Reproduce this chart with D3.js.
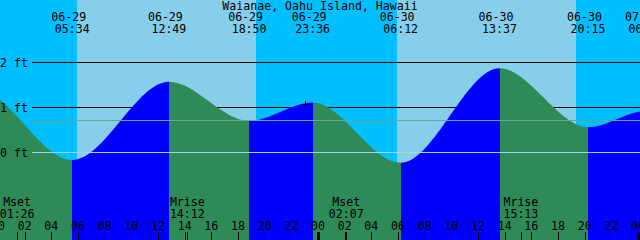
<!DOCTYPE html>
<html>
<head>
<meta charset="utf-8">
<script src="https://cdn.jsdelivr.net/npm/d3@7"></script>
<style>
  body { margin: 0; background: #fff; }
  svg { display: block; }
  text { font-family: 'DejaVu Sans Mono', monospace; font-size: 11.6px; fill: #000; }
</style>
</head>
<body>
<div id="tideGraph"></div>
<script>
const title = 'Waianae, Oahu Island, Hawaii'

// tide extremes (the first two and the last one are outside the window)
const tideTimes = ['2024-06-28T16:40', '2024-06-28T22:30', '2024-06-29T05:34', '2024-06-29T12:49',
  '2024-06-29T18:50', '2024-06-29T23:36', '2024-06-30T06:12', '2024-06-30T13:37',
  '2024-06-30T20:15', '2024-07-01T00:36', '2024-07-01T07:00']
const tideHeights = [0.8, 1.38, -0.17, 1.57, 0.70, 1.11, -0.23, 1.87, 0.56, 0.92, -0.1]

const sunriseTimes = ['2024-06-29T05:55', '2024-06-30T05:55']
const sunsetTimes = ['2024-06-29T19:21', '2024-06-30T19:21']

const moonTimes = ['2024-06-29T01:26', '2024-06-29T14:12', '2024-06-30T02:07', '2024-06-30T15:13']
const moonEvents = ['Mset', 'Mrise', 'Mset', 'Mrise']

const depthLines = [0, 1, 2]
const meanLevel = 0.71
const markTime = '2024-06-29T23:02'
const markHeight = 1.06

const width = 640
const height = 240

const parse = d3.utcParse('%Y-%m-%dT%H:%M')
const tStart = parse('2024-06-29T00:09')
const tEnd = parse('2024-07-01T00:09')

const x = d3.scaleUtc().domain([tStart, tEnd]).range([0, width])
const y = d3.scaleLinear().domain([0, 2]).range([152.5, 62.5])

const tides = tideTimes.map((t, i) => ({t: parse(t), h: tideHeights[i]}))

const svg = d3
  .select('#tideGraph')
  .append('svg')
  .attr('width', width)
  .attr('height', height)

// sky: night / day bands
const sunrise = sunriseTimes.map(parse)
const sunset = sunsetTimes.map(parse)
const bands = [{a: tStart, b: sunrise[0], day: false}]
sunrise.forEach((s, i) => {
  bands.push({a: s, b: sunset[i], day: true})
  bands.push({a: sunset[i], b: i + 1 < sunrise.length ? sunrise[i + 1] : tEnd, day: false})
})
svg.selectAll('rect.sky')
  .data(bands)
  .enter()
  .append('rect')
  .attr('class', 'sky')
  .attr('x', d => x(d.a))
  .attr('width', d => x(d.b) - x(d.a))
  .attr('y', 0)
  .attr('height', height)
  .attr('fill', d => d.day ? '#87ceeb' : '#00bfff')
  .attr('shape-rendering', 'crispEdges')

// 1 ft and 2 ft lines sit behind the water
svg.selectAll('line.depth')
  .data(depthLines.filter(d => d > 0))
  .enter()
  .append('line')
  .attr('x1', 32)
  .attr('x2', width)
  .attr('y1', d => y(d))
  .attr('y2', d => y(d))
  .attr('stroke', '#000')
  .attr('shape-rendering', 'crispEdges')

// water, coloured by rising / falling
const area = d3.area()
  .x(d => x(d.t))
  .y0(height)
  .y1(d => y(d.h))
  .curve(d3.curveMonotoneX)

svg.append('clipPath')
  .attr('id', 'water')
  .append('path')
  .attr('d', area(tides))

const segs = d3.pairs(tides)
svg.append('g')
  .attr('clip-path', 'url(#water)')
  .selectAll('rect')
  .data(segs)
  .enter()
  .append('rect')
  .attr('x', d => x(d[0].t))
  .attr('width', d => x(d[1].t) - x(d[0].t))
  .attr('y', 0)
  .attr('height', height)
  .attr('fill', d => d[1].h > d[0].h ? '#0000ff' : '#2e8b57')
  .attr('shape-rendering', 'crispEdges')

// 0 ft and mean level lines drawn over the water
svg.append('line')
  .attr('x1', 32).attr('x2', width)
  .attr('y1', y(0)).attr('y2', y(0))
  .attr('stroke', '#a6d2e2')
  .attr('shape-rendering', 'crispEdges')
svg.append('line')
  .attr('x1', 32).attr('x2', width)
  .attr('y1', y(meanLevel)).attr('y2', y(meanLevel))
  .attr('stroke', '#5fa89a')
  .attr('shape-rendering', 'crispEdges')

svg.selectAll('text.ft')
  .data(depthLines)
  .enter()
  .append('text')
  .attr('x', 0)
  .attr('y', d => y(d) + 4)
  .text(d => d + ' ft')

// the little cross
const mx = x(parse(markTime))
const my = y(markHeight)
svg.append('path')
  .attr('d', `M${mx - 4},${my}H${mx + 5}M${mx + 0.5},${my - 3.5}V${my + 3.5}`)
  .attr('stroke', '#000')
  .attr('shape-rendering', 'crispEdges')

// title
svg.append('text')
  .attr('x', width / 2)
  .attr('y', 9.5)
  .attr('text-anchor', 'middle')
  .text(title)

// tide event labels at the top
const fmtDate = d3.utcFormat('%m-%d')
const fmtTime = d3.utcFormat('%H:%M')
const shown = tides.filter(d => d.t > tStart && d.t < d3.utcHour.offset(tEnd, 2))
const lab = svg.selectAll('g.ev')
  .data(shown)
  .enter()
  .append('g')
lab.append('text')
  .attr('x', d => x(d.t) - 3.5)
  .attr('y', 20.5)
  .attr('text-anchor', 'middle')
  .text(d => fmtDate(d.t))
lab.append('text')
  .attr('x', d => x(d.t))
  .attr('y', 33)
  .attr('text-anchor', 'middle')
  .text(d => fmtTime(d.t))

// moon events
const moon = moonTimes.map((t, i) => ({t: parse(t), name: moonEvents[i]}))
const ml = svg.selectAll('g.moon')
  .data(moon)
  .enter()
  .append('g')
ml.append('text')
  .attr('x', d => x(d.t))
  .attr('y', 206)
  .attr('text-anchor', 'middle')
  .text(d => d.name)
ml.append('text')
  .attr('x', d => x(d.t))
  .attr('y', 217.5)
  .attr('text-anchor', 'middle')
  .text(d => fmtTime(d.t))
ml.append('line')
  .attr('x1', d => Math.round(x(d.t)) + 0.5)
  .attr('x2', d => Math.round(x(d.t)) + 0.5)
  .attr('y1', 232)
  .attr('y2', height)
  .attr('stroke', '#000')
  .attr('shape-rendering', 'crispEdges')

// hour axis
const hours = d3.utcHour.every(2).range(d3.utcDay.floor(tStart), tEnd)
const fmtHour = d3.utcFormat('%H')
svg.selectAll('text.hr')
  .data(hours)
  .enter()
  .append('text')
  .attr('x', d => x(d))
  .attr('y', 229.5)
  .attr('text-anchor', 'middle')
  .text(d => fmtHour(d))
svg.selectAll('rect.tick')
  .data(hours)
  .enter()
  .append('rect')
  .attr('x', d => d.getUTCHours() === 0 ? x(d) - 1 : Math.round(x(d)))
  .attr('width', d => d.getUTCHours() === 0 ? 3 : 1)
  .attr('y', 232)
  .attr('height', 8)
  .attr('fill', '#000')
  .attr('shape-rendering', 'crispEdges')
</script>
</body>
</html>
